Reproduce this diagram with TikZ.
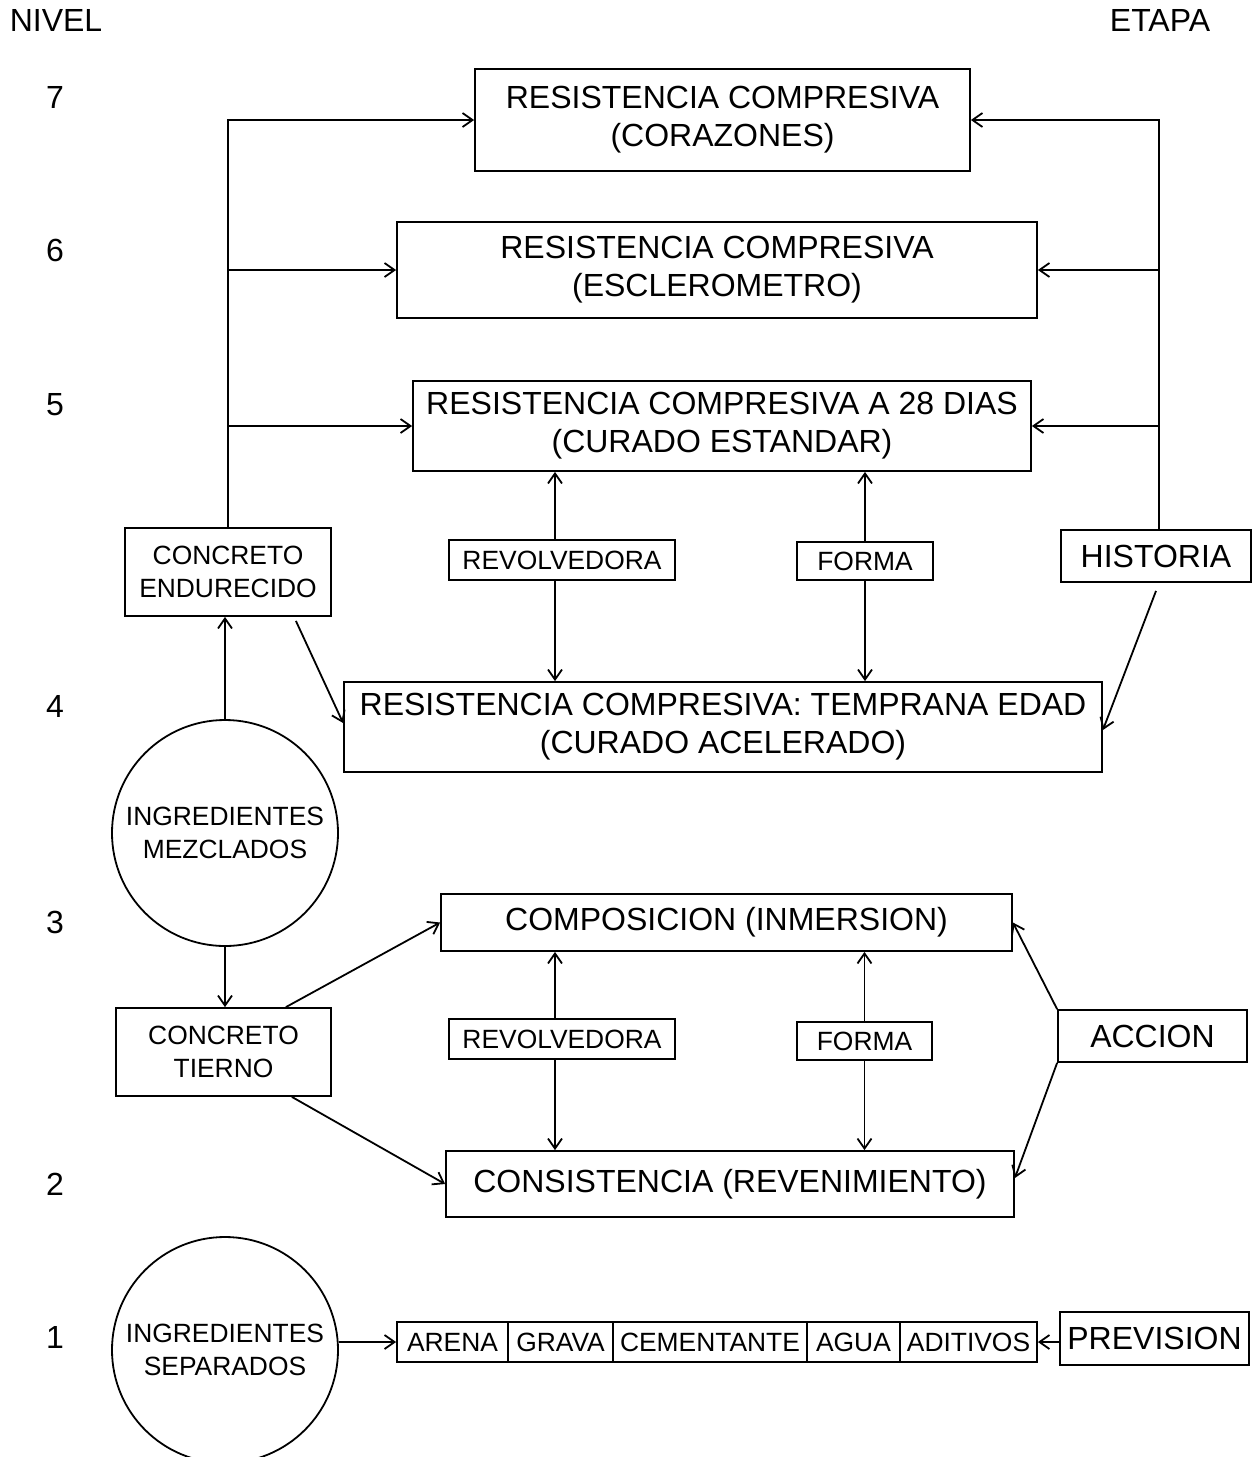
\documentclass[tikz,border=0pt]{standalone}
\usepackage{fontspec}
\setmainfont{Liberation Sans}
\usetikzlibrary{arrows.meta}

\begin{document}
\begin{tikzpicture}[
    x=0.5pt, y=-0.5pt,
    line width=0.9pt,
    >={Straight Barb[length=5pt,width=7pt]},
    big/.style={font=\fontsize{16}{19}\selectfont},
    small/.style={font=\fontsize{13.2}{16.5}\selectfont},
    box/.style={draw, align=center, inner sep=0pt},
    ingr/.style={draw, circle, align=center, inner sep=0pt, minimum size=113pt, small}
]
   \useasboundingbox (0,0) rectangle (1259,1457);

   % headers and levels
   \node[big] (nivel) at (56,20) {NIVEL};
   \node[big] (etapa) at (1160,20) {ETAPA};
   \node[big] (n7) at (55,97) {7};
   \node[big] (n6) at (55,250) {6};
   \node[big] (n5) at (55,405) {5};
   \node[big] (n4) at (55,706) {4};
   \node[big] (n3) at (55,922) {3};
   \node[big] (n2) at (55,1184) {2};
   \node[big] (n1) at (55,1337) {1};

   % tests
   \node[box, big, minimum width=247.5pt, minimum height=51pt] (r7) at (722.5,120) {RESISTENCIA COMPRESIVA\\(CORAZONES)};
   \node[box, big, minimum width=320pt, minimum height=48pt] (r6) at (717,270) {RESISTENCIA COMPRESIVA\\(ESCLEROMETRO)};
   \node[box, big, minimum width=309pt, minimum height=45pt] (r5) at (722,426) {RESISTENCIA COMPRESIVA A 28 DIAS\\(CURADO ESTANDAR)};
   \node[box, big, minimum width=379pt, minimum height=45pt] (r4) at (723,727) {RESISTENCIA COMPRESIVA: TEMPRANA EDAD\\(CURADO ACELERADO)};
   \node[box, big, minimum width=285.5pt, minimum height=28.5pt] (comp) at (726.5,922.5) {COMPOSICION (INMERSION)};
   \node[box, big, minimum width=284pt, minimum height=33pt] (consist) at (730,1184) {CONSISTENCIA (REVENIMIENTO)};

   % concrete states
   \node[box, small, minimum width=103pt, minimum height=44pt] (endur) at (228,572) {CONCRETO\\ENDURECIDO};
   \node[box, small, minimum width=107.5pt, minimum height=44pt] (tierno) at (223.5,1052) {CONCRETO\\TIERNO};
   \node[ingr] (mezcl) at (225,833) {INGREDIENTES\\MEZCLADOS};
   \node[ingr] (separ) at (225,1350) {INGREDIENTES\\SEPARADOS};

   % equipment
   \node[box, small, minimum width=113pt, minimum height=20pt] (rev5) at (562,560) {REVOLVEDORA};
   \node[box, small, minimum width=68pt, minimum height=19pt] (forma5) at (865,561) {FORMA};
   \node[box, small, minimum width=113pt, minimum height=20pt] (rev3) at (562,1039) {REVOLVEDORA};
   \node[box, small, minimum width=67.5pt, minimum height=19pt] (forma3) at (864.5,1041) {FORMA};

   % stages
   \node[box, big, minimum width=95pt, minimum height=26pt] (hist) at (1156,556) {HISTORIA};
   \node[box, big, minimum width=94.5pt, minimum height=26pt] (accion) at (1152.5,1036) {ACCION};
   \node[box, big, minimum width=94.5pt, minimum height=26.5pt] (prev) at (1154.5,1338.5) {PREVISION};

   % ingredients row
   \node[box, small, minimum width=55.5pt, minimum height=20pt] (arena) at (452.5,1342) {ARENA};
   \node[box, small, minimum width=52.5pt, minimum height=20pt] (grava) at (560.5,1342) {GRAVA};
   \node[box, small, minimum width=97pt, minimum height=20pt] (cement) at (710,1342) {CEMENTANTE};
   \node[box, small, minimum width=46.5pt, minimum height=20pt] (agua) at (853.5,1342) {AGUA};
   \node[box, small, minimum width=68.5pt, minimum height=20pt] (aditiv) at (968.5,1342) {ADITIVOS};

   % hardened concrete links
   \draw[->] (endur.north) |- (r7.west);
   \draw[->] (endur.north |- r6.west) -- (r6.west);
   \draw[->] (endur.north |- r5.west) -- (r5.west);
   \draw[->] ([xshift=1.5pt]hist.north) |- (r7.east);
   \draw[->] ([xshift=1.5pt]hist.north |- r6.east) -- (r6.east);
   \draw[->] ([xshift=1.5pt]hist.north |- r5.east) -- (r5.east);
   \draw[->] ([xshift=-3.5pt]rev5.north) -- ([xshift=-3.5pt]rev5.north |- r5.south);
   \draw[->] ([xshift=-3.5pt]rev5.south) -- ([xshift=-3.5pt]rev5.south |- r4.north);
   \draw[->] (forma5.north) -- (forma5.north |- r5.south);
   \draw[->] (forma5.south) -- (forma5.south |- r4.north);
   \draw[->] ([xshift=-18pt,yshift=-2pt]endur.south east) -- ([yshift=2pt]r4.west);
   \draw[->] ([yshift=-4pt]hist.south) -- ([yshift=-1.5pt]r4.east);
   \draw[->] (mezcl.north) -- (mezcl.north |- endur.south);

   % fresh concrete links
   \draw[->] (mezcl.south) -- (mezcl.south |- tierno.north);
   \draw[->] ([xshift=-23pt]tierno.north east) -- (comp.west);
   \draw[->] ([xshift=-20pt]tierno.south east) -- (consist.west);
   \draw[->] ([xshift=-3.5pt]rev3.north) -- ([xshift=-3.5pt]rev3.north |- comp.south);
   \draw[->] ([xshift=-3.5pt]rev3.south) -- ([xshift=-3.5pt]rev3.south |- consist.north);
   \draw[->] (forma3.north) -- (forma3.north |- comp.south);
   \draw[->] (forma3.south) -- (forma3.south |- consist.north);
   \draw[->] (accion.north west) -- (comp.east);
   \draw[->] (accion.south west) -- ([yshift=3pt]consist.east);

   % separated ingredients
   \draw[->] (arena.west -| separ.east) -- (arena.west);
   \draw[->] (aditiv.east -| prev.west) -- (aditiv.east);

\end{tikzpicture}
\end{document}
